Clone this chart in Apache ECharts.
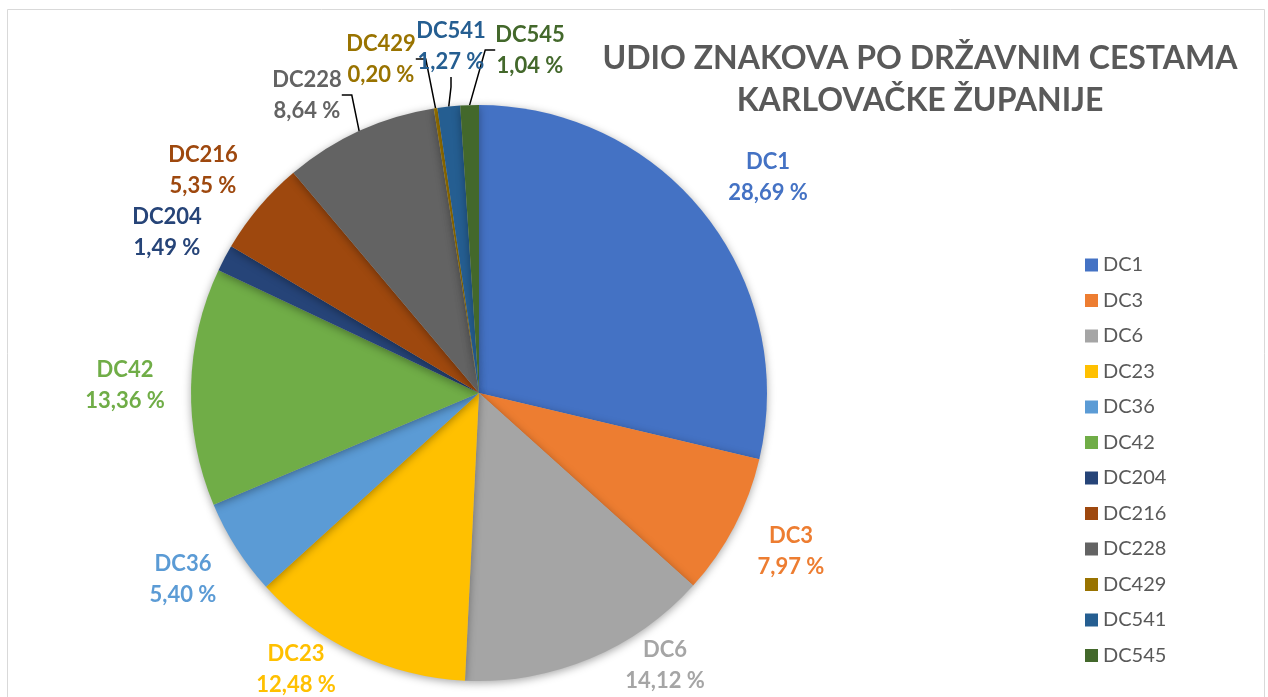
<!DOCTYPE html>
<html>
<head>
    <meta charset="utf-8">
    <title>Udio znakova po državnim cestama</title>
    <style>
        *{ margin: 0; padding: 0; }
        body{ background: #fff; }
        #main{ width: 1268px; height: 697px; }
    </style>
    <script src="https://cdn.jsdelivr.net/npm/echarts@6/dist/echarts.min.js"></script>
</head>
<body>
    <div id="main"></div>
    <script type="text/javascript">
        // podaci
        var ceste = ['DC1', 'DC3', 'DC6', 'DC23', 'DC36', 'DC42', 'DC204', 'DC216', 'DC228', 'DC429', 'DC541', 'DC545'];
        var udjeli = [28.69, 7.97, 14.12, 12.48, 5.40, 13.36, 1.49, 5.35, 8.64, 0.20, 1.27, 1.04];
        var boje = ['#4472C4', '#ED7D31', '#A5A5A5', '#FFC000', '#5B9BD5', '#70AD47',
                    '#264478', '#9E480E', '#636363', '#997300', '#255E91', '#43682B'];

        // položaj oznaka (središte), kao u Excelu
        var oznake = [[768, 177], [791, 551], [665, 665], [296, 669], [183, 579], [125, 385],
                      [167, 232], [203, 170], [307, 95], [381, 59], [451, 46], [530, 50]];

        var font = 'Lato, "Open Sans", sans-serif';
        var chart = echarts.init(document.getElementById('main'));

        var data = ceste.map(function (c, i) {
            return {
                name: c,
                value: udjeli[i],
                itemStyle: { color: boje[i] },
                label: { color: boje[i] },
                labelLine: { show: i >= 8 }
            };
        });

        var option = {
            backgroundColor: '#fff',
            animation: false,
            color: boje,
            title: {
                text: 'UDIO ZNAKOVA PO DRŽAVNIM CESTAMA\nKARLOVAČKE ŽUPANIJE',
                left: 915,
                top: 33,
                textAlign: 'center',
                textStyle: {
                    fontFamily: font,
                    fontSize: 32,
                    fontWeight: 'bold',
                    color: '#595959',
                    lineHeight: 42
                }
            },
            legend: {
                orient: 'vertical',
                left: 1080,
                top: 250,
                icon: 'rect',
                itemWidth: 13,
                itemHeight: 13,
                itemGap: 15.5,
                data: ceste,
                textStyle: { fontFamily: font, fontSize: 20, color: '#595959' }
            },
            graphic: [{
                type: 'rect',
                shape: { x: 7.5, y: 9.5, width: 1257, height: 700 },
                style: { fill: 'none', stroke: '#d9d9d9', lineWidth: 1 },
                silent: true
            }],
            series: [{
                type: 'pie',
                center: [479, 393],
                radius: 288,
                startAngle: 90,
                clockwise: true,
                itemStyle: {
                    shadowBlur: 8,
                    shadowColor: 'rgba(0,0,0,0.35)',
                    shadowOffsetY: 2
                },
                label: {
                    show: true,
                    position: 'outside',
                    fontFamily: font,
                    fontSize: 22,
                    fontWeight: 'bold',
                    lineHeight: 31,
                    align: 'center',
                    formatter: function (p) {
                        return p.name + '\n' + p.value.toFixed(2).replace('.', ',') + ' %';
                    }
                },
                labelLine: {
                    length: 10,
                    length2: 10,
                    lineStyle: { color: '#000', width: 1.5 }
                },
                labelLayout: function (p) {
                    var pos = oznake[p.dataIndex];
                    return { x: pos[0], y: pos[1], align: 'center', verticalAlign: 'middle' };
                },
                data: data
            }]
        };
        chart.setOption(option);
    </script>
</body>
</html>
